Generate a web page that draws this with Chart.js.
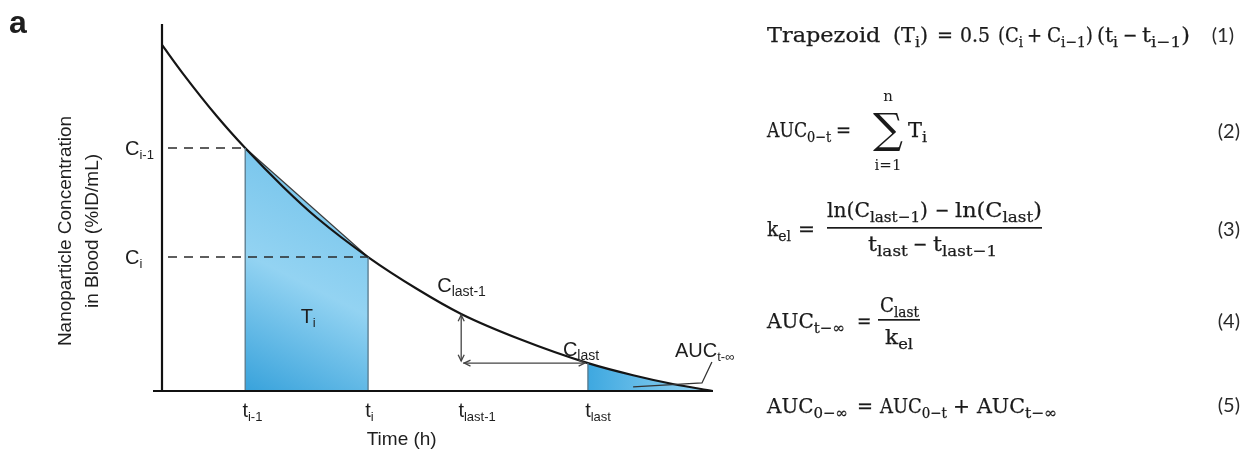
<!DOCTYPE html>
<html>
<head>
<meta charset="utf-8">
<script src="https://cdn.jsdelivr.net/npm/chart.js@4.4.0/dist/chart.umd.min.js"></script>
<style>
  html, body { margin: 0; padding: 0; background: #ffffff; }
  #wrap { width: 1242px; height: 452px; position: relative; }
</style>
</head>
<body>
<div id="wrap"><canvas id="auc" width="1242" height="452"></canvas></div>
<script>
// Blood concentration profile after a single dose (arbitrary units)
const timePoints = [0, 3.8, 10.0, 15.1, 22.0, 28.1, 37.4, 46.3, 54.3, 65.0, 77.3, 85.5, 92.7, 100];
const concValues = [94.3, 86.5, 74.8, 66.2, 55.6, 47.2, 36.5, 27.8, 21.0, 14.1, 7.6, 4.3, 1.9, 0];

// Sampling times marked under the time axis
const tickTimes = [15.1, 37.4, 54.3, 77.3];
const tickMain = ['t', 't', 't', 't'];
const tickSub = ['i-1', 'i', 'last-1', 'last'];

// Concentration levels marked beside the concentration axis
const levelValues = [66.2, 36.5];
const levelMain = ['C', 'C'];
const levelSub = ['i-1', 'i'];

// Trapezoid T_i between t_(i-1) and t_i
const trapTimes = [15.1, 37.4];
const trapConc = [66.2, 36.5];

// Extrapolated tail after t_last
const tailTimes = [77.3, 85.5, 92.7, 100];
const tailConc = [7.6, 4.3, 1.9, 0];

// Elimination-rate construction between t_last-1 and t_last
const kelTimes = [54.3, 77.3];
const kelConc = [21.0, 7.6];

const SANS = '"Liberation Sans", Arial, sans-serif';
const SERIF = '"DejaVu Serif", "Liberation Serif", serif';
const NUMF = 'Lato, "Open Sans", sans-serif';
const INK = '#1e1e1e';

function pts(xs, ys) { return xs.map((x, i) => ({ x: x, y: ys[i] })); }

// ---- rich text with subscripts: "AUC_{0−t}" ----
function parseRich(str) {
  const out = []; const re = /_\{([^}]*)\}/g; let last = 0, m;
  while ((m = re.exec(str))) {
    if (m.index > last) out.push({ t: str.slice(last, m.index), sub: false });
    out.push({ t: m[1], sub: true });
    last = re.lastIndex;
  }
  if (last < str.length) out.push({ t: str.slice(last), sub: false });
  return out;
}
function setFont(ctx, f, sub) {
  ctx.font = (f.weight || 'normal') + ' ' + (sub ? f.sub : f.size) + 'px ' + f.family;
}
function richWidth(ctx, str, f) {
  let w = 0;
  for (const r of parseRich(str)) { setFont(ctx, f, r.sub); w += ctx.measureText(r.t).width; }
  return w;
}
function drawRich(ctx, str, x, y, f) {
  ctx.textAlign = 'left'; ctx.textBaseline = 'alphabetic';
  let cx = x;
  for (const r of parseRich(str)) {
    setFont(ctx, f, r.sub);
    const yy = r.sub ? y + f.drop : y;
    if (f.stroke) ctx.strokeText(r.t, cx, yy);
    ctx.fillText(r.t, cx, yy);
    cx += ctx.measureText(r.t).width;
  }
  return cx;
}
// formula piece starting at x0, widths eased gently towards the span x0..x1
function drawFit(ctx, str, x0, x1, y, f) {
  const w = richWidth(ctx, str, f);
  const s = Math.min(1.12, Math.max(0.86, (x1 - x0) / w));
  ctx.save();
  ctx.translate(x0, y);
  ctx.scale(s, 1);
  drawRich(ctx, str, 0, 0, f);
  ctx.restore();
}
function drawRow(ctx, pieces, y, f) {
  pieces.forEach(p => drawFit(ctx, p[2], p[0], p[1], y, f));
}

function arrowHead(ctx, x, y, ang, len) {
  ctx.beginPath();
  ctx.moveTo(x + len * Math.cos(ang + 0.45), y + len * Math.sin(ang + 0.45));
  ctx.lineTo(x, y);
  ctx.lineTo(x + len * Math.cos(ang - 0.45), y + len * Math.sin(ang - 0.45));
  ctx.stroke();
}

// Axes, guide lines, arrows and labels drawn on top of the datasets
const diagramPlugin = {
  id: 'diagram',
  afterDatasetsDraw(chart) {
    const { ctx } = chart;
    const xs = chart.scales.x, ys = chart.scales.y;
    const X = v => xs.getPixelForValue(v), Y = v => ys.getPixelForValue(v);
    ctx.save();

    // trapezoid and tail vertical edges
    ctx.strokeStyle = '#55778a'; ctx.lineWidth = 1.3;
    ctx.beginPath();
    trapTimes.forEach((t, i) => { ctx.moveTo(X(t), Y(0)); ctx.lineTo(X(t), Y(trapConc[i])); });
    ctx.moveTo(X(tailTimes[0]), Y(0)); ctx.lineTo(X(tailTimes[0]), Y(tailConc[0]));
    ctx.stroke();

    // dashed guides from the concentration axis
    ctx.strokeStyle = '#2a2a2a'; ctx.lineWidth = 1.6; ctx.setLineDash([9, 7]);
    ctx.beginPath();
    levelValues.forEach((c, i) => { ctx.moveTo(X(0) + 6, Y(c)); ctx.lineTo(X(trapTimes[i]), Y(c)); });
    ctx.stroke();
    ctx.setLineDash([]);

    // axes
    ctx.strokeStyle = '#111'; ctx.lineWidth = 2.2;
    ctx.beginPath();
    ctx.moveTo(X(0), ys.top); ctx.lineTo(X(0), Y(0) + 1);
    ctx.moveTo(X(0) - 9, Y(0)); ctx.lineTo(X(100), Y(0));
    ctx.stroke();

    // k_el construction arrows
    const ax = X(kelTimes[0]), ay0 = Y(kelConc[0]) + 1, ay1 = Y(kelConc[1]);
    const bx1 = X(kelTimes[1]) - 3;
    ctx.strokeStyle = '#444'; ctx.lineWidth = 1.3;
    ctx.beginPath();
    ctx.moveTo(ax, ay0); ctx.lineTo(ax, ay1 - 2);
    ctx.moveTo(ax + 2, ay1); ctx.lineTo(bx1, ay1);
    ctx.stroke();
    arrowHead(ctx, ax, ay0, Math.PI / 2, 7);
    arrowHead(ctx, ax, ay1 - 2, -Math.PI / 2, 7);
    arrowHead(ctx, ax + 3, ay1, 0, 7);
    arrowHead(ctx, bx1, ay1, Math.PI, 7);

    // leader line for the tail area
    ctx.strokeStyle = '#333'; ctx.lineWidth = 1.3;
    ctx.beginPath();
    ctx.moveTo(X(85.5), Y(1.1)); ctx.lineTo(X(98.0), Y(2.2)); ctx.lineTo(X(99.8), Y(7.9));
    ctx.stroke();

    ctx.fillStyle = INK;
    const lab = { family: SANS, size: 20, sub: 13, drop: 4 };

    // time tick labels: main glyph centred on the sampling time
    tickTimes.forEach((t, i) => {
      setFont(ctx, lab, false);
      const w = ctx.measureText(tickMain[i]).width;
      drawRich(ctx, tickMain[i] + '_{' + tickSub[i] + '}', X(t) - w / 2, Y(0) + 26, lab);
    });

    // concentration level labels
    levelValues.forEach((c, i) => {
      drawRich(ctx, levelMain[i] + '_{' + levelSub[i] + '}', X(0) - 37, Y(c) + 7, lab);
    });

    // point labels
    const big = { family: SANS, size: 20, sub: 13, drop: 4 };
    drawRich(ctx, 'T_{i}', X((trapTimes[0] + trapTimes[1]) / 2) - 6, Y(18.5), big);
    drawRich(ctx, 'C_{last-1}', X(kelTimes[0]) - 24, Y(kelConc[0]) - 22, { family: SANS, size: 20, sub: 14, drop: 4 });
    drawRich(ctx, 'C_{last}', X(kelTimes[1]) - 25, Y(kelConc[1]) - 7, { family: SANS, size: 20, sub: 14, drop: 4 });
    drawRich(ctx, 'AUC_{t-∞}', X(100) - 38, Y(kelConc[1]) - 6, { family: SANS, size: 20, sub: 13, drop: 4 });

    // axis titles
    ctx.font = '19px ' + SANS; ctx.textAlign = 'center'; ctx.textBaseline = 'alphabetic';
    ctx.fillText('Time (h)', X(43.5), 445);
    ctx.save();
    ctx.rotate(-Math.PI / 2);
    ctx.fillText('Nanoparticle Concentration', -231, 71);
    ctx.fillText('in Blood (%ID/mL)', -231, 98);
    ctx.restore();

    // panel letter
    ctx.font = 'bold 32px ' + SANS; ctx.textAlign = 'left';
    ctx.fillText('a', 9, 33);

    // equations
    ctx.fillStyle = '#1a1a1a'; ctx.strokeStyle = '#1a1a1a'; ctx.lineWidth = 0.25;
    const ef = { family: SERIF, size: 20, sub: 15, drop: 5, stroke: true };

    // (1) trapezoid rule
    drawRow(ctx, [[767, 884, 'Trapezoid'], [893, 928, '(T_{i})'], [937, 953, '='], [960, 990, '0.5'],
      [998, 1023, '(C_{i}'], [1027, 1042, '+'], [1047, 1093, 'C_{i−1})'], [1097, 1118, '(t_{i}'],
      [1123, 1137, '−'], [1142, 1190, 't_{i−1})']], 42, ef);

    // (2) sum of trapezoids
    drawRow(ctx, [[767, 829, 'AUC_{0−t}'], [836, 851, '='], [908, 927, 'T_{i}']], 137, ef);
    ctx.font = '42px ' + SERIF; ctx.textAlign = 'center'; ctx.textBaseline = 'middle';
    ctx.fillText('∑', 888, 132);
    ctx.font = '15px ' + SERIF; ctx.textBaseline = 'alphabetic';
    ctx.fillText('n', 888, 101);
    ctx.fillText('i=1', 888, 170);

    // (3) elimination rate constant
    drawRow(ctx, [[767, 791, 'k_{el}'], [798, 815, '=']], 236, ef);
    ctx.fillRect(827, 227, 215, 1.7);
    drawRow(ctx, [[827, 928, 'ln(C_{last−1})'], [935, 948, '−'], [955, 1042, 'ln(C_{last})']], 217, ef);
    drawRow(ctx, [[868, 908, 't_{last}'], [913, 927, '−'], [933, 997, 't_{last−1}']], 251, ef);

    // (4) extrapolated tail
    drawRow(ctx, [[767, 845, 'AUC_{t−∞}'], [857, 871, '=']], 328, ef);
    ctx.fillRect(878, 319, 42, 1.7);
    drawRow(ctx, [[880, 919, 'C_{last}']], 312, ef);
    drawRow(ctx, [[885, 913, 'k_{el}']], 344, ef);

    // (5) total exposure
    drawRow(ctx, [[767, 848, 'AUC_{0−∞}'], [857, 873, '='], [880, 947, 'AUC_{0−t}'], [953, 970, '+'],
      [977, 1057, 'AUC_{t−∞}']], 413, ef);

    ctx.fillStyle = '#2a2a2a';
    ctx.font = '20px ' + NUMF; ctx.textAlign = 'right'; ctx.textBaseline = 'alphabetic';
    ctx.fillText('(1)', 1234, 42);
    ctx.fillText('(2)', 1240, 138);
    ctx.fillText('(3)', 1240, 236);
    ctx.fillText('(4)', 1240, 328);
    ctx.fillText('(5)', 1240, 412);

    ctx.restore();
  }
};

function trapGradient(context) {
  const chart = context.chart;
  if (!chart.chartArea) return '#8fd0f0';
  const xs = chart.scales.x, ys = chart.scales.y;
  const g = chart.ctx.createLinearGradient(xs.getPixelForValue(trapTimes[0]), ys.getPixelForValue(0),
    xs.getPixelForValue(trapTimes[1]), ys.getPixelForValue(trapConc[0]));
  g.addColorStop(0, '#38a2db');
  g.addColorStop(0.45, '#93d3f2');
  g.addColorStop(1, '#6cbfe9');
  return g;
}
function tailGradient(context) {
  const chart = context.chart;
  if (!chart.chartArea) return '#8fd0f0';
  const xs = chart.scales.x;
  const g = chart.ctx.createLinearGradient(xs.getPixelForValue(tailTimes[0]), 0, xs.getPixelForValue(100), 0);
  g.addColorStop(0, '#3ea8e0');
  g.addColorStop(1, '#9ad6f3');
  return g;
}

new Chart(document.getElementById('auc'), {
  type: 'line',
  data: {
    datasets: [
      {
        label: 'Concentration',
        data: pts(timePoints, concValues),
        borderColor: '#151515', borderWidth: 2.2, fill: false,
        pointRadius: 0, cubicInterpolationMode: 'monotone', order: 0
      },
      {
        label: 'Trapezoid',
        data: pts(trapTimes, trapConc),
        borderColor: '#3c3c3c', borderWidth: 1.2, backgroundColor: trapGradient,
        fill: 'origin', pointRadius: 0, tension: 0, order: 1
      },
      {
        label: 'Tail',
        data: pts(tailTimes, tailConc),
        borderWidth: 0, borderColor: 'rgba(0,0,0,0)', backgroundColor: tailGradient,
        fill: 'origin', pointRadius: 0, cubicInterpolationMode: 'monotone', order: 2
      }
    ]
  },
  options: {
    responsive: false, animation: false, devicePixelRatio: 1,
    layout: { padding: { left: 162, right: 529, top: 24, bottom: 61 } },
    plugins: { legend: { display: false }, tooltip: { enabled: false } },
    scales: {
      x: { type: 'linear', min: 0, max: 100, display: false },
      y: { min: 0, max: 100, display: false }
    }
  },
  plugins: [diagramPlugin]
});
</script>
</body>
</html>
